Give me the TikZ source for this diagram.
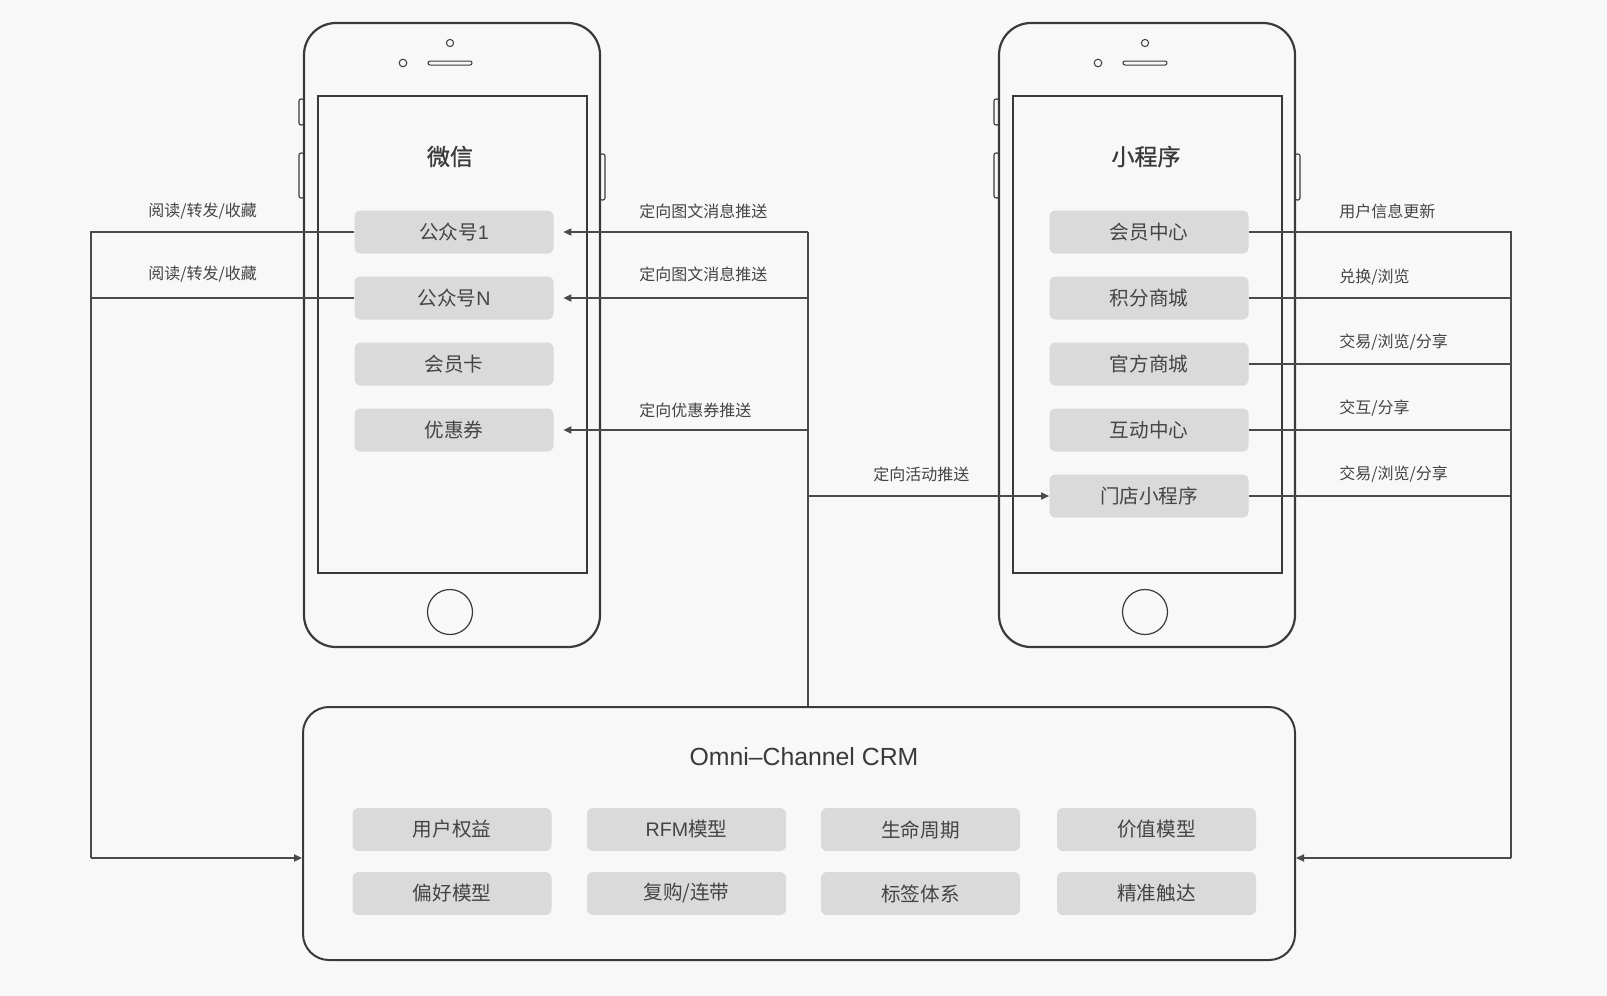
\documentclass[tikz,border=0pt]{standalone}
\usepackage{fontspec}
\setmainfont{Noto Sans CJK SC}
\newfontfamily\titlefont{Noto Sans CJK SC}[FakeBold=1]
\newfontfamily\latfont{Liberation Sans}
\usetikzlibrary{arrows.meta}
\definecolor{bg}{HTML}{F8F8F8}
\definecolor{ln}{HTML}{3A3A3A}
\definecolor{cn}{HTML}{4A4A4A}
\definecolor{btn}{HTML}{DADADA}
\definecolor{tx}{HTML}{444444}
\begin{document}
\begin{tikzpicture}[x=0.5pt,y=-0.5pt,
  phone/.style={draw=ln, line width=1.1pt, fill=bg, rounded corners=16pt},
  screen/.style={draw=ln, line width=0.6pt},
  side/.style={draw=ln, line width=0.55pt, fill=bg, rounded corners=1pt},
  thinl/.style={draw=ln, line width=0.5pt},
  btnbox/.style={fill=btn, rounded corners=3pt, minimum width=99.5pt, minimum height=21.5pt, inner sep=0pt, text=tx, font=\fontsize{9.8pt}{12pt}\selectfont},
  conn/.style={draw=cn, line width=0.6pt},
  arr/.style={-{Triangle[length=4pt,width=3.6pt]}},
  lbl/.style={anchor=west, inner sep=0pt, text=tx, font=\fontsize{8pt}{10pt}\selectfont},
  ttl/.style={inner sep=0pt, text=ln, font=\titlefont\fontsize{11.5pt}{14pt}\selectfont},
]
\fill[bg] (0,0) rectangle (1607,996);
\useasboundingbox (0,0) rectangle (1607,996);

% phones
\foreach \dx in {0,695}{
  \begin{scope}[shift={(\dx,0)}]
    \draw[side] (299,99) rectangle (304,125);
    \draw[side] (299,153) rectangle (304,198);
    \draw[side] (600,154) rectangle (605,200);
    \draw[phone] (304,23) rectangle (600,647);
    \draw[screen] (318,96) rectangle (587,573);
    \draw[thinl] (450,43) circle (1.8pt);
    \draw[thinl] (403,63) circle (1.9pt);
    \draw[thinl, rounded corners=1pt] (428,61) rectangle (472,65);
    \draw[draw=ln, line width=0.6pt] (450,612) circle (11.25pt);
  \end{scope}
}

% titles
\node[ttl] (t1) at (450,156.5) {微信};
\node[ttl] (t2) at (1146,156.5) {小程序};

% WeChat buttons
\node[btnbox] (g1) at (454,232) {公众号{\latfont 1}};
\node[btnbox] (gN) at (454,298) {公众号{\latfont N}};
\node[btnbox] (hy) at (454,364) {会员卡};
\node[btnbox] (yh) at (454,430) {优惠券};

% Mini program buttons
\node[btnbox] (m1) at (1149,232) {会员中心};
\node[btnbox] (m2) at (1149,298) {积分商城};
\node[btnbox] (m3) at (1149,364) {官方商城};
\node[btnbox] (m4) at (1149,430) {互动中心};
\node[btnbox] (m5) at (1149,496) {门店小程序};

% CRM
\node[draw=ln, line width=1pt, rounded corners=13pt, minimum width=496pt, minimum height=126.5pt, inner sep=0pt] (crm) at (799,833.5) {};
\node[inner sep=0pt, text=ln, font=\latfont\fontsize{12.4pt}{15pt}\selectfont] (crmt) at (804,756.5) {Omni–Channel CRM};
\node[btnbox] (c1) at (452,829.5) {用户权益};
\node[btnbox] (c2) at (686.5,829.5) {{\latfont RFM}模型};
\node[btnbox] (c3) at (920.5,829.5) {生命周期};
\node[btnbox] (c4) at (1156.5,829.5) {价值模型};
\node[btnbox] (c5) at (452,893.5) {偏好模型};
\node[btnbox] (c6) at (686.5,893.5) {复购/连带};
\node[btnbox] (c7) at (920.5,893.5) {标签体系};
\node[btnbox] (c8) at (1156.5,893.5) {精准触达};

% left connectors
\coordinate (lb) at (91,858);
\draw[conn] (g1.west) -| (lb);
\draw[conn] (gN.west) -- (gN.west -| lb);
\draw[conn,arr] (lb) -- (lb -| crm.west);

% middle connectors
\coordinate (mt) at (808,232);
\draw[conn] (mt |- crm.north) -- (mt);
\draw[conn,arr] (mt) -- ([xshift=4.75pt]g1.east);
\draw[conn,arr] (gN.east -| mt) -- ([xshift=4.75pt]gN.east);
\draw[conn,arr] (yh.east -| mt) -- ([xshift=4.75pt]yh.east);
\draw[conn,arr] (m5.west -| mt) -- (m5.west);

% right connectors
\coordinate (rb) at (1511,858);
\draw[conn] (m1.east) -| (rb);
\draw[conn] (m2.east) -- (m2.east -| rb);
\draw[conn] (m3.east) -- (m3.east -| rb);
\draw[conn] (m4.east) -- (m4.east -| rb);
\draw[conn] (m5.east) -- (m5.east -| rb);
\draw[conn,arr] (rb) -- (rb -| crm.east);

% labels
\node[lbl] (la1) at (148,211.5) {阅读/转发/收藏};
\node[lbl] (la2) at (148,274) {阅读/转发/收藏};
\node[lbl] (lm1) at (639,211.5) {定向图文消息推送};
\node[lbl] (lm2) at (639,274) {定向图文消息推送};
\node[lbl] (lm3) at (639,410) {定向优惠券推送};
\node[lbl] (lm4) at (873,474) {定向活动推送};
\node[lbl] (lr1) at (1339,211) {用户信息更新};
\node[lbl] (lr2) at (1339,277.5) {兑换/浏览};
\node[lbl] (lr3) at (1339,342.5) {交易/浏览/分享};
\node[lbl] (lr4) at (1339,408) {交互/分享};
\node[lbl] (lr5) at (1339,474) {交易/浏览/分享};
\end{tikzpicture}
\end{document}
